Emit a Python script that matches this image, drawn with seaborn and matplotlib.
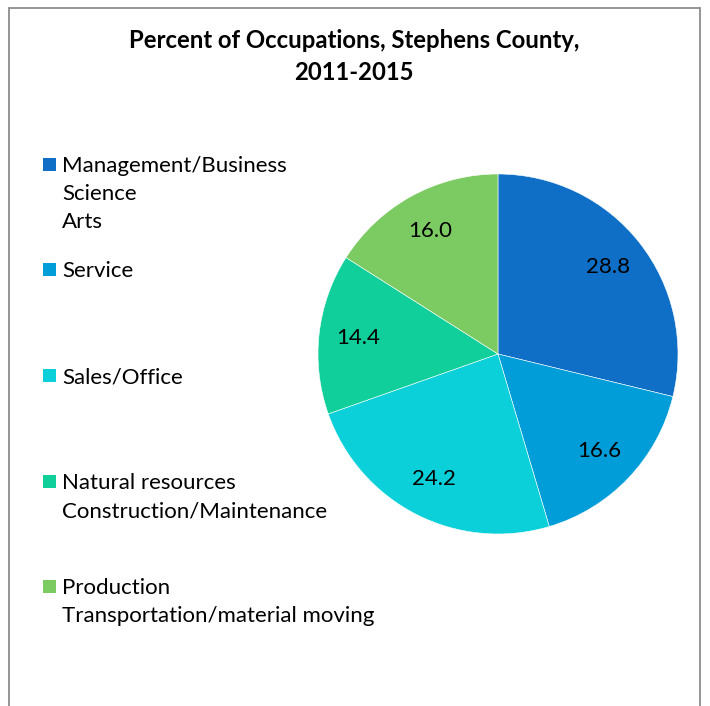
import matplotlib
matplotlib.use("Agg")
import matplotlib.pyplot as plt
import seaborn as sns
from matplotlib.patches import Rectangle

occupations = [
    "Management/Business\nScience\nArts",
    "Service",
    "Sales/Office",
    "Natural resources\nConstruction/Maintenance",
    "Production\nTransportation/material moving",
]
percents = [28.8, 16.6, 24.2, 14.4, 16.0]
colors = ["#0F6FC6", "#009DD9", "#0BD0D9", "#10CF9B", "#7CCA62"]

sns.set_theme(style="white")
plt.rcParams['font.family'] = ['Lato', 'DejaVu Sans']

fig = plt.figure(figsize=(7.1, 7.06), dpi=100)
W, H = 710, 706

# chart border (bottom edge runs off the image)
fig.patches.append(Rectangle((9 / W, -0.05), 691 / W, 1.05 - 8 / H,
                             transform=fig.transFigure, fill=False,
                             edgecolor="#8c8c8c", linewidth=1.3))

fig.text(354 / W, 1 - 29 / H, "Percent of Occupations, Stephens County,\n2011-2015",
         ha="center", va="top", fontsize=17.2, fontweight="bold",
         linespacing=1.5, color="black")

# pie
r = 180
cx, cy = 498, 354
ax = fig.add_axes([(cx - r) / W, (H - cy - r) / H, 2 * r / W, 2 * r / H])
wedges, texts, autotexts = ax.pie(
    percents, colors=colors, startangle=90, counterclock=False,
    autopct=lambda p: f"{p:.1f}", pctdistance=0.78,
    wedgeprops=dict(edgecolor="white", linewidth=0.4),
    textprops=dict(fontsize=16, color="black"))
ax.set_xlim(-1, 1)
ax.set_ylim(-1, 1)
ax.set_aspect("equal")
ax.axis("off")

# legend, evenly spaced like the original
tops = [164, 269, 375, 481, 586]
for label, color, y in zip(occupations, colors, tops):
    fig.patches.append(Rectangle((43 / W, 1 - (y + 7) / H), 13 / W, 13 / H,
                                 transform=fig.transFigure, facecolor=color,
                                 edgecolor="none"))
    fig.text(62 / W, 1 - (y - 8) / H, label, ha="left", va="top",
             fontsize=16, linespacing=1.5, color="black")

fig.savefig("out.png", dpi=100)
